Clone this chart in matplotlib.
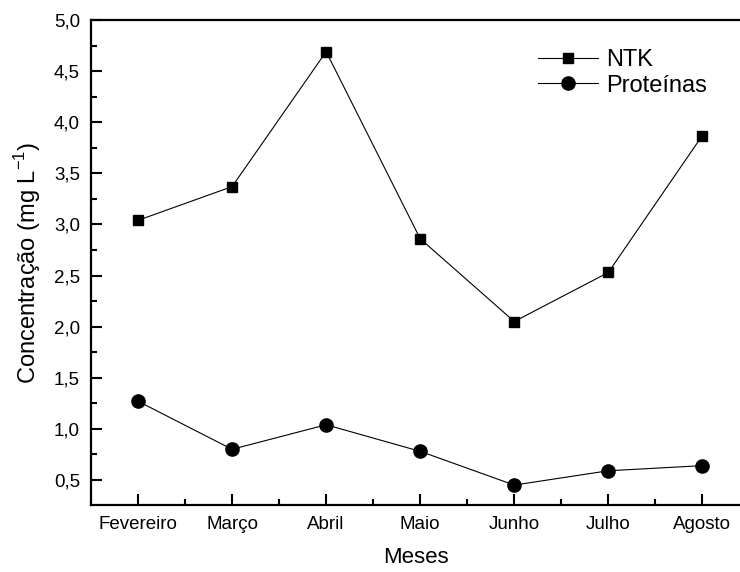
import numpy as np
import matplotlib.pyplot as plt
from matplotlib.ticker import FuncFormatter, MultipleLocator

plt.rcParams['font.family'] = ['Liberation Sans', 'DejaVu Sans']
plt.rcParams['mathtext.fontset'] = 'custom'
plt.rcParams['mathtext.rm'] = 'Liberation Sans'

meses = ['Fevereiro', 'Março', 'Abril', 'Maio', 'Junho', 'Julho', 'Agosto']
ntk = [3.04, 3.37, 4.69, 2.86, 2.05, 2.53, 3.87]
proteinas = [1.27, 0.80, 1.04, 0.78, 0.45, 0.59, 0.64]

fig = plt.figure(figsize=(7.4, 5.72), dpi=100)
ax = fig.add_axes([91/740, 67/572, (740-91)/740, (505-20)/572])

x = np.arange(len(meses))
ax.plot(x, ntk, color='black', lw=0.8, marker='s', ms=7.2, label='NTK')
ax.plot(x, proteinas, color='black', lw=0.8, marker='o', ms=9.5, label='Proteínas')

ax.set_xlim(-0.5, 6.4)
ax.set_ylim(0.255, 5.0)
ax.set_xticks(x)
ax.set_xticklabels(meses)
ax.xaxis.set_minor_locator(MultipleLocator(0.5))
ax.yaxis.set_major_locator(MultipleLocator(0.5))
ax.yaxis.set_minor_locator(MultipleLocator(0.25))
ax.yaxis.set_major_formatter(FuncFormatter(lambda v, p: ('%.1f' % v).replace('.', ',')))

ax.tick_params(which='both', direction='in', width=1.5, labelsize=13.5, pad=8)
ax.tick_params(which='major', length=8)
ax.tick_params(which='minor', length=4)
for s in ax.spines.values():
    s.set_linewidth(1.6)
ax.spines['right'].set_visible(False)

ax.set_xlabel('Meses', fontsize=16, labelpad=10)
ax.set_ylabel('Concentração (mg L$^{\\mathrm{-1}}$)', fontsize=17, labelpad=8)

leg = ax.legend(loc='upper left', bbox_to_anchor=(0.689, 0.94), frameon=False,
                borderpad=0, borderaxespad=0, fontsize=17, handlelength=2.55,
                handletextpad=0.34, labelspacing=0.15)

fig.savefig('out.png', dpi=100)
